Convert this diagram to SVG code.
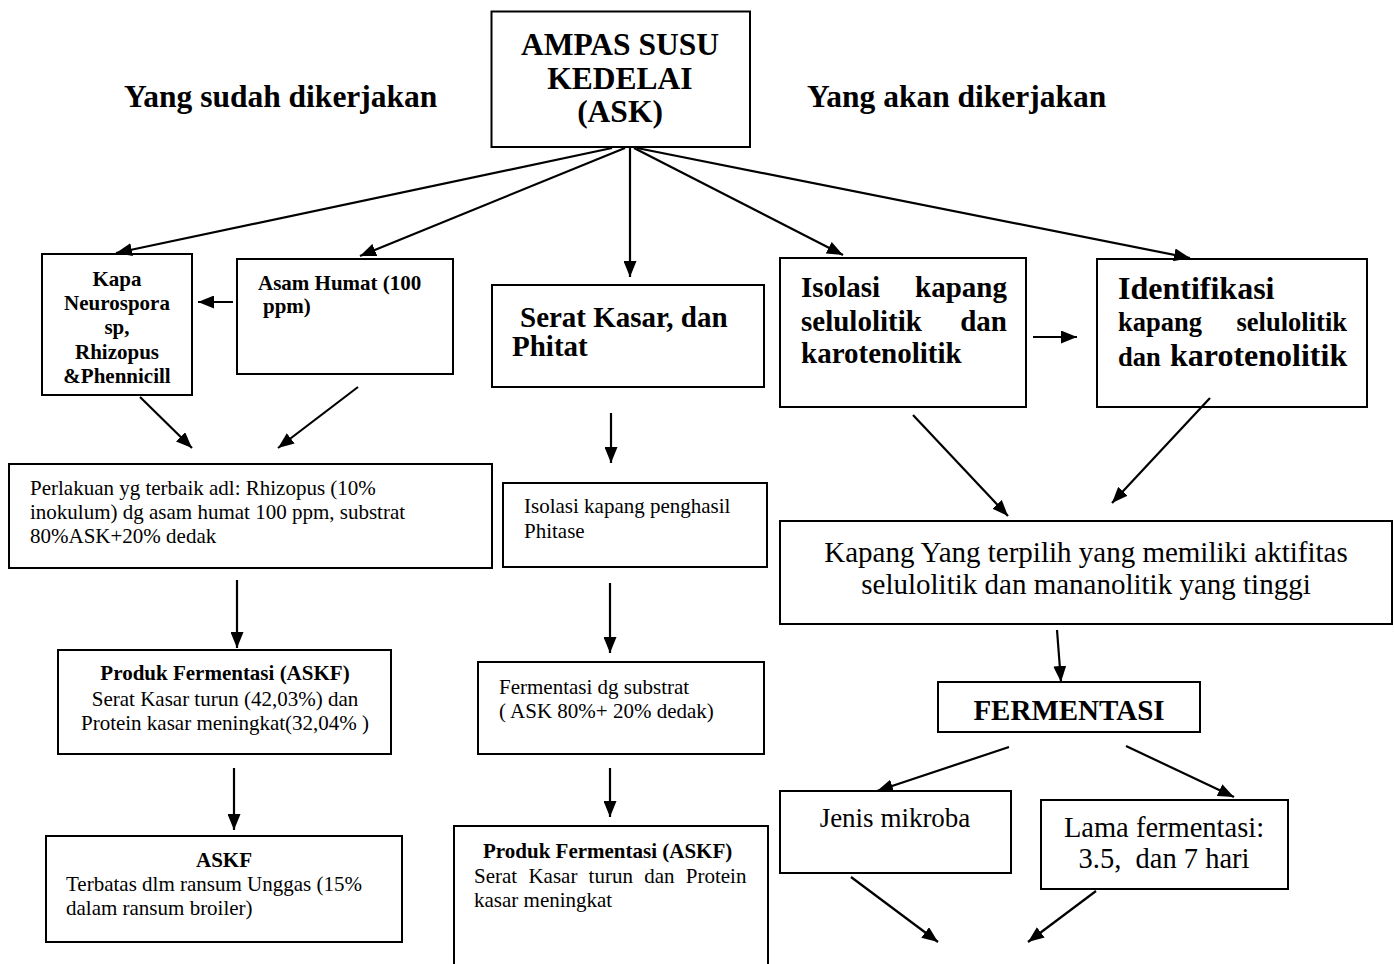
<svg xmlns="http://www.w3.org/2000/svg" width="1394" height="964" viewBox="0 0 1394 964">
<defs>
<style>
.box{fill:none;stroke:#000;stroke-width:2}
.c{fill:none;stroke:#000;stroke-width:2.2;marker-end:url(#ah)}
text{font-family:"Liberation Serif","Times New Roman",serif;fill:#000}
.b{font-weight:bold}
.s21{font-size:21px}
.s29{font-size:29px}
.mid{text-anchor:middle}
.end{text-anchor:end}
</style>
<marker id="ah" viewBox="0 0 16 13" refX="16" refY="6.5" markerWidth="16" markerHeight="13" markerUnits="userSpaceOnUse" orient="auto">
<path d="M0,0 L16,6.5 L0,13 z" fill="#000"/>
</marker>
</defs>
<rect width="1394" height="964" fill="#fff"/>

<text class="b" x="124" y="107" font-size="31.5">Yang sudah dikerjakan</text>
<text class="b" x="807" y="107" font-size="31.5">Yang akan dikerjakan</text>

<g id="ask">
<rect class="box" x="491.5" y="11.5" width="258.5" height="135.5"/>
<text class="b mid" x="620" y="55" font-size="31.5">AMPAS SUSU</text>
<text class="b mid" x="620" y="89" font-size="31.5">KEDELAI</text>
<text class="b mid" x="620" y="122" font-size="31.5">(ASK)</text>
</g>

<g id="kapa">
<rect class="box" x="42" y="254" width="150" height="141"/>
<text class="b mid s21" x="117" y="286">Kapa</text>
<text class="b mid s21" x="117" y="310">Neurospora</text>
<text class="b mid s21" x="117" y="334">sp,</text>
<text class="b mid s21" x="117" y="359">Rhizopus</text>
<text class="b mid s21" x="117" y="383">&amp;Phennicill</text>
</g>

<g id="asam">
<rect class="box" x="237" y="259" width="216" height="115"/>
<text class="b s21" x="258" y="290">Asam Humat (100</text>
<text class="b s21" x="263" y="313">ppm)</text>
</g>

<g id="perlakuan">
<rect class="box" x="9" y="464" width="483" height="104"/>
<text class="s21" x="30" y="495">Perlakuan yg terbaik adl: Rhizopus (10%</text>
<text class="s21" x="30" y="519">inokulum) dg asam humat 100 ppm, substrat</text>
<text class="s21" x="30" y="543">80%ASK+20% dedak</text>
</g>

<g id="produk1">
<rect class="box" x="58" y="650" width="333" height="104"/>
<text class="b mid s21" x="225" y="680">Produk Fermentasi (ASKF)</text>
<text class="mid s21" x="225" y="706">Serat Kasar turun (42,03%) dan</text>
<text class="mid s21" x="225" y="730">Protein kasar meningkat(32,04% )</text>
</g>

<g id="askf">
<rect class="box" x="46" y="836" width="356" height="106"/>
<text class="b mid s21" x="224" y="867">ASKF</text>
<text class="s21" x="66" y="891">Terbatas dlm ransum Unggas (15%</text>
<text class="s21" x="66" y="915">dalam ransum broiler)</text>
</g>

<g id="serat">
<rect class="box" x="492" y="285" width="272" height="102"/>
<text class="b s29" x="520" y="327">Serat Kasar, dan</text>
<text class="b s29" x="512" y="356">Phitat</text>
</g>

<g id="isolasi-phitase">
<rect class="box" x="503" y="483" width="264" height="84"/>
<text class="s21" x="524" y="513">Isolasi kapang penghasil</text>
<text class="s21" x="524" y="538">Phitase</text>
</g>

<g id="fermentasi-substrat">
<rect class="box" x="478" y="662" width="286" height="92"/>
<text class="s21" x="499" y="694">Fermentasi dg substrat</text>
<text class="s21" x="499" y="718">( ASK 80%+ 20% dedak)</text>
</g>

<g id="produk2">
<rect class="box" x="454" y="826" width="314" height="150"/>
<text class="b s21" x="483" y="858">Produk Fermentasi (ASKF)</text>
<text class="s21" x="474" y="883" word-spacing="6">Serat Kasar turun dan Protein</text>
<text class="s21" x="474" y="907">kasar meningkat</text>
</g>

<g id="isolasi">
<rect class="box" x="780" y="258" width="246" height="149"/>
<text class="b s29" y="297"><tspan x="801">Isolasi</tspan><tspan class="end" x="1007">kapang</tspan></text>
<text class="b s29" y="331"><tspan x="801">selulolitik</tspan><tspan class="end" x="1007">dan</tspan></text>
<text class="b s29" x="801" y="363">karotenolitik</text>
</g>

<g id="identifikasi">
<rect class="box" x="1097" y="259" width="270" height="148"/>
<text class="b" x="1118" y="299" font-size="32">Identifikasi</text>
<text class="b" y="331" font-size="26.5"><tspan x="1118">kapang</tspan><tspan class="end" x="1347">selulolitik</tspan></text>
<text class="b" y="366"><tspan x="1118" font-size="26.5">dan</tspan><tspan x="1170" font-size="32">karotenolitik</tspan></text>
</g>

<g id="kapang-terpilih">
<rect class="box" x="780" y="521" width="612" height="103"/>
<text class="mid s29" x="1086" y="562">Kapang Yang terpilih yang memiliki aktifitas</text>
<text class="mid s29" x="1086" y="594">selulolitik dan mananolitik yang tinggi</text>
</g>

<g id="fermentasi">
<rect class="box" x="938" y="682" width="262" height="50"/>
<text class="b mid s29" x="1069" y="720">FERMENTASI</text>
</g>

<g id="jenis">
<rect class="box" x="780" y="791" width="231" height="82"/>
<text class="mid" x="895" y="827" font-size="27">Jenis mikroba</text>
</g>

<g id="lama">
<rect class="box" x="1041" y="800" width="247" height="89"/>
<text class="mid" x="1164" y="837" font-size="28.5">Lama fermentasi:</text>
<text class="mid" x="1164" y="868" font-size="28.5" xml:space="preserve">3.5,  dan 7 hari</text>
</g>

<g id="connectors">
<line class="c" x1="612" y1="148" x2="116" y2="253"/>
<line class="c" x1="625" y1="148" x2="360" y2="256"/>
<line class="c" x1="630" y1="148" x2="630" y2="277"/>
<line class="c" x1="634" y1="148" x2="843" y2="255"/>
<line class="c" x1="637" y1="148" x2="1190" y2="258"/>
<line class="c" x1="233" y1="302" x2="198" y2="302"/>
<line class="c" x1="140" y1="397" x2="192" y2="448"/>
<line class="c" x1="358" y1="387" x2="278" y2="448"/>
<line class="c" x1="237" y1="580" x2="237" y2="648"/>
<line class="c" x1="234" y1="768" x2="234" y2="830"/>
<line class="c" x1="611" y1="413" x2="611" y2="463"/>
<line class="c" x1="610" y1="583" x2="610" y2="653"/>
<line class="c" x1="610" y1="768" x2="610" y2="817"/>
<line class="c" x1="1033" y1="337" x2="1077" y2="337"/>
<line class="c" x1="913" y1="415" x2="1008" y2="516"/>
<line class="c" x1="1210" y1="398" x2="1112" y2="503"/>
<line class="c" x1="1057" y1="630" x2="1061" y2="682"/>
<line class="c" x1="1009" y1="747" x2="877" y2="791"/>
<line class="c" x1="1126" y1="746" x2="1234" y2="797"/>
<line class="c" x1="851" y1="877" x2="938" y2="942"/>
<line class="c" x1="1096" y1="891" x2="1028" y2="942"/>
</g>
</svg>
